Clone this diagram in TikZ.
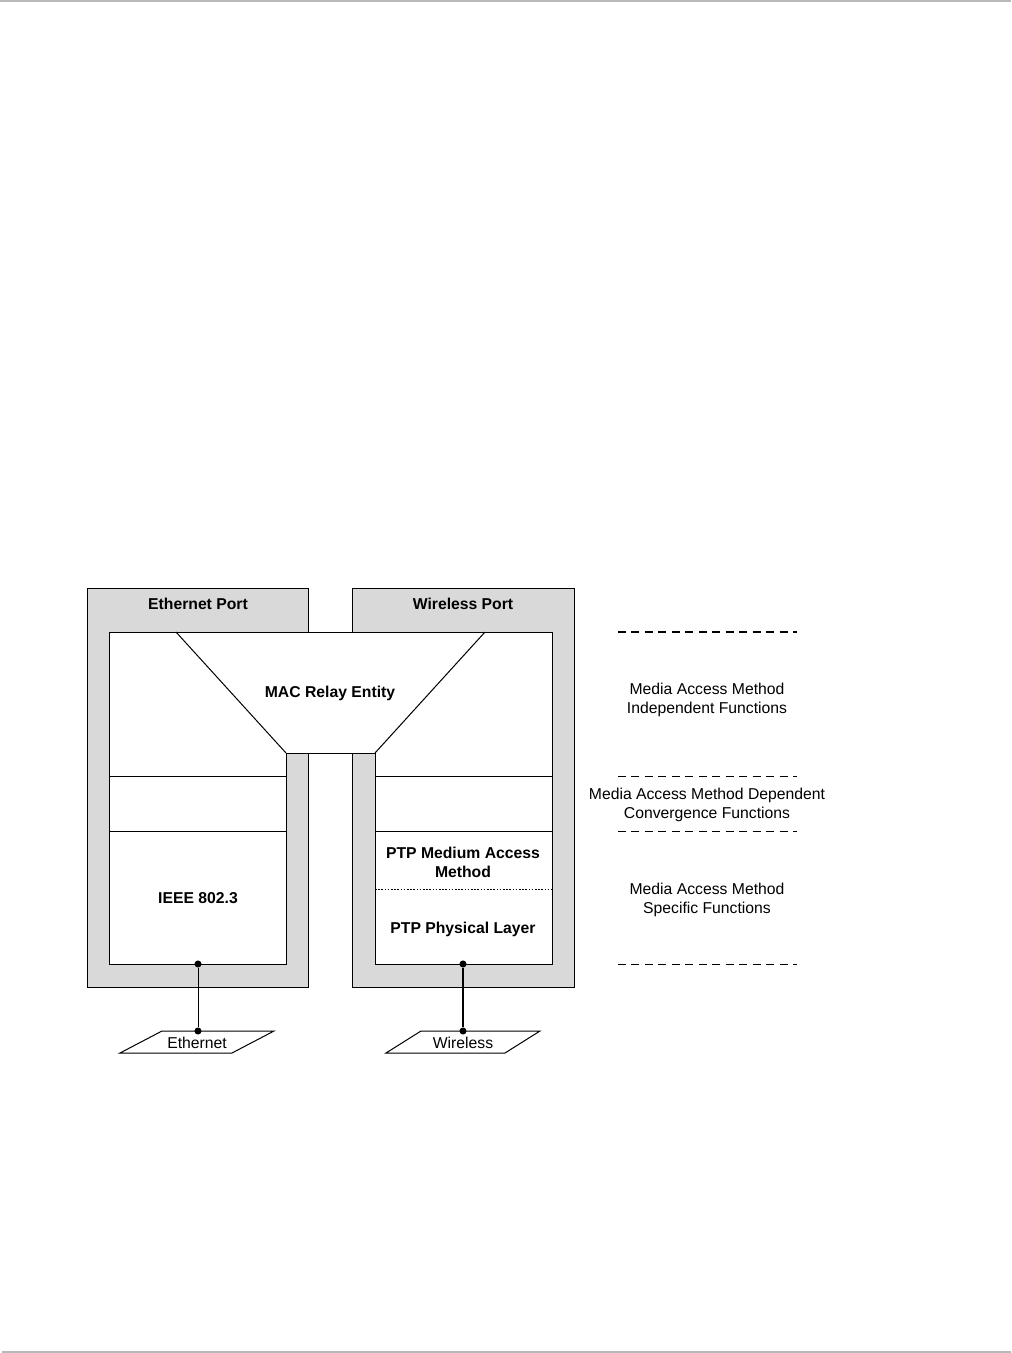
\documentclass[tikz,border=0pt]{standalone}
\usepackage{fontspec}
\setmainfont{Liberation Sans}
\definecolor{portgray}{RGB}{217,217,217}
\definecolor{pagegray}{RGB}{185,185,185}
\begin{document}
\begin{tikzpicture}[x=0.75pt,y=-0.75pt,
  port/.style={draw=black, fill=portgray, line width=0.75pt},
  layer/.style={draw=black, line width=0.75pt},
  bold/.style={font=\fontsize{11.8pt}{14.25pt}\selectfont\bfseries, align=center, inner sep=0pt},
  plain/.style={font=\fontsize{11.8pt}{14.25pt}\selectfont, align=center, inner sep=0pt},
  sep/.style={draw=black, line width=0.75pt, dash pattern=on 6pt off 4.1pt},
  septhick/.style={draw=black, line width=1.2pt, dash pattern=on 6pt off 4.1pt},
  dot/.style={circle, fill=black, inner sep=0pt, minimum size=5.3pt},
  medium/.style={draw=black, fill=white, line width=0.75pt}]
\useasboundingbox (0,0) rectangle (1011,1353);
% page rules
\draw[pagegray, line width=1.2pt] (0,1) -- (1011,1);
\draw[pagegray, line width=1.2pt] (2,1352) -- (1011,1352);
% ports
\draw[port] (87,588) rectangle (308,987);
\draw[port] (352,588) rectangle (574,987);
\node[bold] (ethport) at (198,603.5) {Ethernet Port};
\node[bold] (wlport) at (463,603.5) {Wireless Port};
% white region with MAC relay
\draw[layer, fill=white] (109,632) -- (552,632) -- (552,964) -- (375,964) -- (375,753) -- (286,753) -- (286,964) -- (109,964) -- cycle;
\draw[layer] (176,632) -- (286,753);
\draw[layer] (485,632) -- (375,753);
\draw[layer] (109,776) -- (286,776);
\draw[layer] (375,776) -- (552,776);
\draw[layer] (109,831) -- (286,831);
\draw[layer] (375,831) -- (552,831);
\draw[black, line width=0.6pt, dash pattern=on 1.2pt off 1.2pt] (375,889) -- (552,889);
\node[bold] (relay) at (330,693.5) {MAC Relay Entity};
\node[bold] (ieee) at (198,898.5) {IEEE 802.3};
\node[bold] (ptpmac) at (463,862.5) {PTP Medium Access\\Method};
\node[bold] (ptpphy) at (463,929.5) {PTP Physical Layer};
% media
\draw[medium] (120,1053) -- (162,1031) -- (274,1031) -- (232,1053) -- cycle;
\draw[medium] (386,1053) -- (421,1031) -- (540,1031) -- (505,1053) -- cycle;
\node[plain] (ethmed) at (197,1043) {Ethernet};
\node[plain] (wlmed) at (463,1043) {Wireless};
\node[dot] (ethtop) at (198,964) {};
\node[dot] (ethbot) at (198,1031) {};
\node[dot] (wltop) at (463,964) {};
\node[dot] (wlbot) at (463,1031) {};
\draw[black, line width=0.75pt] (ethtop) -- (ethbot);
\draw[black, line width=1.6pt] (wltop) -- (wlbot);
% right side separators
\coordinate (s1a) at (618,632); \coordinate (s1b) at (797,632);
\coordinate (s2a) at (618,776); \coordinate (s2b) at (797,776);
\coordinate (s3a) at (618,831); \coordinate (s3b) at (797,831);
\coordinate (s4a) at (618,964); \coordinate (s4b) at (797,964);
\draw[septhick] (s1a) -- (s1b);
\draw[sep] (s2a) -- (s2b);
\draw[sep] (s3a) -- (s3b);
\draw[sep] (s4a) -- (s4b);
\node[plain] (indep) at (707,699.5) {Media Access Method\\Independent Functions};
\node[plain] (conv) at (707,804.5) {Media Access Method Dependent\\Convergence Functions};
\node[plain] (spec) at (707,899.5) {Media Access Method\\Specific Functions};
\end{tikzpicture}
\end{document}
